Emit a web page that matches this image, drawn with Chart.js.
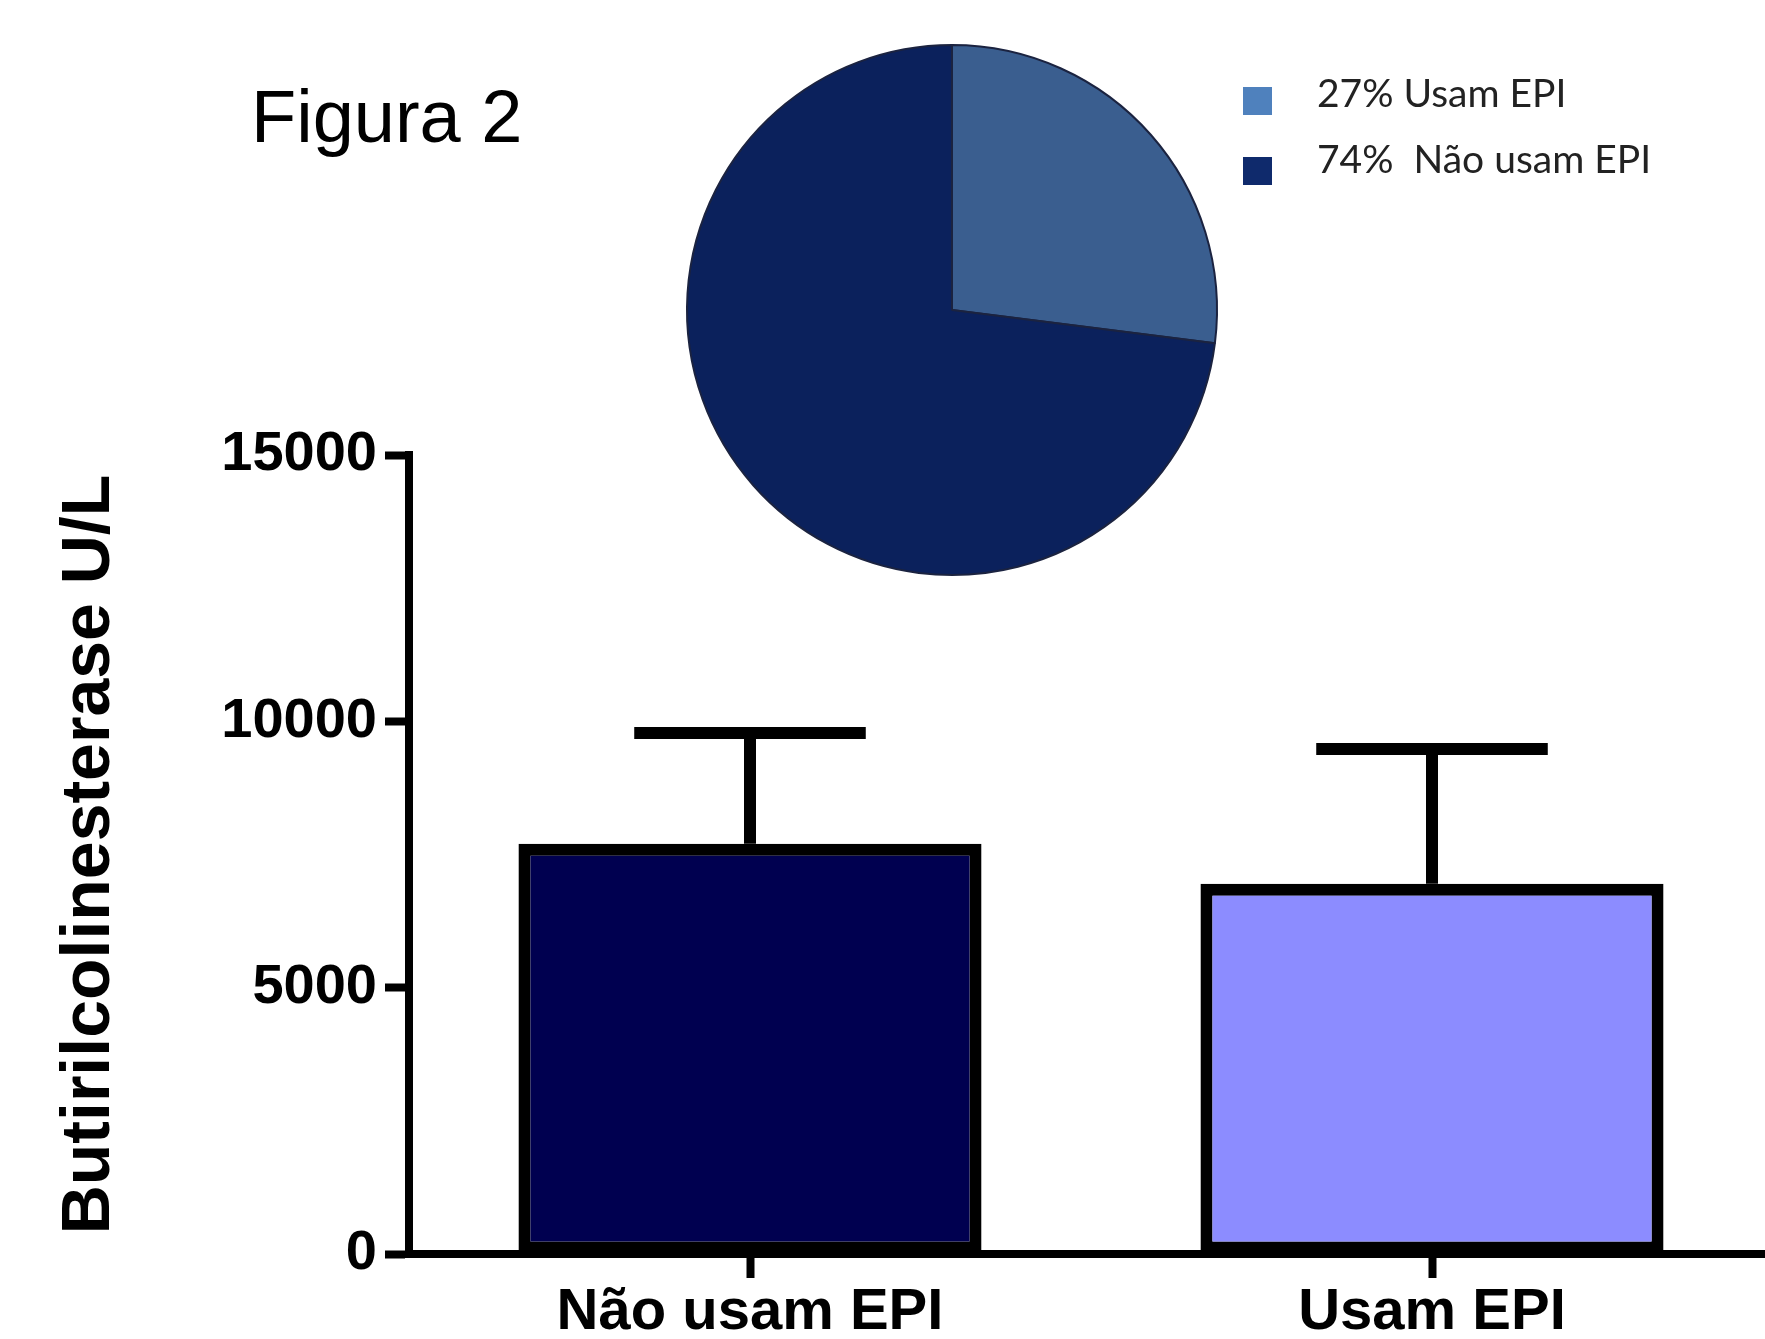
<!DOCTYPE html>
<html><head><meta charset="utf-8">
<script src="https://cdn.jsdelivr.net/npm/chart.js@4"></script>
<style>
html,body{margin:0;padding:0;background:#fff;overflow:hidden;width:1765px;height:1339px;position:relative;}
#bar{position:absolute;left:0;top:0;}
#pie{position:absolute;left:0;top:0;}
#fig{position:absolute;left:251px;top:80px;font-family:"Liberation Sans",Arial,sans-serif;font-size:74px;line-height:74px;color:#000;white-space:nowrap;}
.legtxt{position:absolute;left:1317px;font-family:Lato,"Open Sans",sans-serif;font-size:39px;line-height:normal;color:#222;white-space:pre;}
.sw{position:absolute;left:1243px;width:29px;height:28px;}
</style></head><body>
<canvas id="bar" width="1800" height="1339"></canvas>
<canvas id="pie" width="1765" height="620"></canvas>
<div id="fig"></div>
<div id="legend"></div>
<script>
const figTitle = 'Figura 2';
const categories = ['Não usam EPI', 'Usam EPI'];
const means = [7700, 6950];
const sds = [2080, 2530];
const barColors = ['#000050', '#8C8CFF'];
const yTicks = [0, 5000, 10000, 15000];
const yTitle = 'Butirilcolinesterase U/L';
const pieLabels = ['27% Usam EPI', '74%  Não usam EPI'];
const pieValues = [27, 73];
const pieColors = ['#3A5E8F', '#0B215C'];
const legendColors = ['#4F81BD', '#0F2A6C'];

document.getElementById('fig').textContent = figTitle;
const legendEl = document.getElementById('legend');
const swTops = [87, 157];
const txtBaselines = [107, 173];
pieLabels.forEach((lab, i) => {
  const sw = document.createElement('div');
  sw.className = 'sw';
  sw.style.top = swTops[i] + 'px';
  sw.style.background = legendColors[i];
  legendEl.appendChild(sw);
  const t = document.createElement('div');
  t.className = 'legtxt';
  t.style.top = (txtBaselines[i] - 38.5) + 'px';
  t.textContent = lab;
  legendEl.appendChild(t);
});

const FONT = '"Liberation Sans", Arial, sans-serif';

const errorBars = {
  id: 'errorBars',
  afterDatasetsDraw(chart) {
    const meta = chart.getDatasetMeta(0);
    const ys = chart.scales.y;
    const ctx = chart.ctx;
    ctx.save();
    ctx.strokeStyle = '#000';
    ctx.lineWidth = 12;
    ctx.lineCap = 'butt';
    meta.data.forEach((bar, i) => {
      const x = bar.x;
      const yTop = ys.getPixelForValue(means[i] + sds[i]);
      const half = bar.width / 4;
      ctx.beginPath();
      ctx.moveTo(x, bar.y);
      ctx.lineTo(x, yTop);
      ctx.moveTo(x - half, yTop);
      ctx.lineTo(x + half, yTop);
      ctx.stroke();
    });
    ctx.restore();
  }
};

new Chart(document.getElementById('bar'), {
  type: 'bar',
  data: {
    labels: categories,
    datasets: [{
      data: means,
      backgroundColor: barColors,
      borderColor: '#000',
      borderWidth: 12,
      borderSkipped: false,
      inflateAmount: 0,
      barPercentage: 0.679,
      categoryPercentage: 1
    }]
  },
  options: {
    responsive: false,
    animation: false,
    devicePixelRatio: 1,
    layout: { padding: { left: 0, top: 455, right: 27, bottom: 0 } },
    plugins: { legend: { display: false }, tooltip: { enabled: false } },
    scales: {
      x: {
        grid: { display: true, drawOnChartArea: false, offset: false, drawTicks: true, tickLength: 24, tickWidth: 8, tickColor: '#000', color: '#000' },
        border: { display: true, color: '#000', width: 8 },
        ticks: { font: { family: FONT, size: 58, weight: 'bold' }, color: '#000', padding: 0, maxRotation: 0 },
        afterFit(s) { s.height = 85; }
      },
      y: {
        min: 0, max: 15000,
        afterBuildTicks(s) { s.ticks = yTicks.map(v => ({ value: v })); },
        ticks: { callback: v => String(v), font: { family: FONT, size: 56, weight: 'bold' }, color: '#000', padding: 8 },
        grid: { display: true, drawOnChartArea: false, drawTicks: true, tickLength: 24, tickWidth: 8, tickColor: '#000', color: '#000' },
        border: { display: true, color: '#000', width: 8 },
        title: { display: true, text: yTitle, font: { family: FONT, size: 68, weight: 'bold' }, color: '#000', padding: { top: 49, bottom: 0 } },
        afterFit(s) { s.width = 409; }
      }
    }
  },
  plugins: [errorBars]
});

new Chart(document.getElementById('pie'), {
  type: 'pie',
  data: {
    labels: pieLabels,
    datasets: [{ data: pieValues, backgroundColor: pieColors, borderColor: '#1b2340', borderWidth: 2 }]
  },
  options: {
    responsive: false,
    animation: false,
    devicePixelRatio: 1,
    layout: { padding: { left: 686, right: 547, top: 44, bottom: 44 } },
    plugins: { legend: { display: false }, tooltip: { enabled: false } }
  }
});
</script>
</body></html>
